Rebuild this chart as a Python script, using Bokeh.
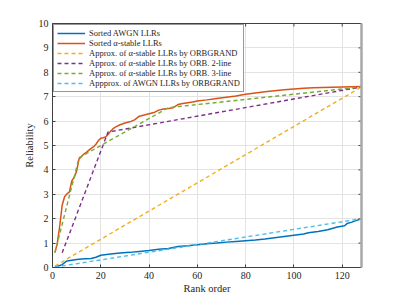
from bokeh.plotting import figure
from bokeh.models import LinearAxis, Range1d, Legend, LegendItem, FixedTicker
from bokeh.embed import file_html
from bokeh.resources import INLINE

# ---- data ----
awgn_x = [1, 2, 3, 4, 5, 6, 8, 10, 12, 14, 16, 18, 20, 24, 28, 32, 36, 40, 44, 48, 50, 52,
          56, 60, 64, 68, 72, 76, 80, 84, 88, 92, 96, 100, 104, 106, 110, 114, 118, 121, 122,
          124, 126, 128]
awgn_y = [0.02, 0.05, 0.08, 0.12, 0.2, 0.27, 0.3, 0.33, 0.35, 0.36, 0.37, 0.42, 0.5, 0.55,
          0.59, 0.62, 0.66, 0.7, 0.75, 0.78, 0.82, 0.86, 0.89, 0.93, 0.97, 1.0, 1.04, 1.07,
          1.1, 1.13, 1.17, 1.22, 1.27, 1.32, 1.37, 1.42, 1.48, 1.55, 1.66, 1.71, 1.8, 1.86,
          1.93, 2.0]

alpha_x = [1, 2, 3, 4, 5, 6, 7, 8, 9, 10, 11, 12, 13, 14, 15, 16, 17, 18, 19, 20, 21, 22,
           23, 24, 25, 26, 28, 30, 32, 34, 36, 38, 40, 42, 44, 46, 48, 50, 52, 54, 56, 58,
           60, 64, 68, 72, 76, 80, 84, 88, 92, 96, 100, 104, 108, 112, 116, 120, 124, 128]
alpha_y = [0.62, 1.0, 1.7, 2.55, 2.9, 3.02, 3.1, 3.55, 3.7, 3.95, 4.45, 4.55, 4.65, 4.72,
           4.8, 4.88, 4.95, 5.05, 5.2, 5.3, 5.32, 5.35, 5.45, 5.58, 5.68, 5.75, 5.85, 5.92,
           5.97, 6.05, 6.2, 6.25, 6.3, 6.35, 6.45, 6.5, 6.52, 6.55, 6.68, 6.72, 6.75, 6.78,
           6.82, 6.87, 6.93, 6.98, 7.03, 7.1, 7.15, 7.2, 7.24, 7.28, 7.32, 7.35, 7.37, 7.38,
           7.39, 7.4, 7.41, 7.42]

orb_alpha_x = [1, 128]
orb_alpha_y = [0.06, 7.4]

orb2_x = [4, 23, 128]
orb2_y = [0.6, 5.55, 7.4]

orb3_x = [1, 11, 48, 128]
orb3_y = [0.6, 4.5, 6.55, 7.4]

orb_awgn_x = [1, 128]
orb_awgn_y = [0.016, 2.0]

x_ticks = [0, 20, 40, 60, 80, 100, 120]
y_ticks = [0, 1, 2, 3, 4, 5, 6, 7, 8, 9, 10]
x_max = 128
y_max = 10

labels = ["Sorted AWGN LLRs",
          "Sorted \u03b1-stable LLRs",
          "Approx. of \u03b1-stable LLRs by ORBGRAND",
          "Approx. of \u03b1-stable LLRs by ORB. 2-line",
          "Approx. of \u03b1-stable LLRs by ORB. 3-line",
          "Appprox. of AWGN LLRs by ORBGRAND"]

FONT = "Liberation Serif"
TXT = "#262626"
AX = "#404040"

p = figure(frame_width=309, frame_height=244,
           x_range=Range1d(0, x_max), y_range=Range1d(0, y_max),
           output_backend="svg", toolbar_location=None,
           min_border_left=52, min_border_right=30, min_border_top=23, min_border_bottom=30,
           background_fill_color="white", border_fill_color="white")
p.outline_line_color = None

for ax, ticks in ((p.xaxis[0], x_ticks), (p.yaxis[0], y_ticks)):
    ax.ticker = FixedTicker(ticks=ticks)
    ax.major_tick_in = 3
    ax.major_tick_out = 0
    ax.minor_tick_in = 0
    ax.minor_tick_out = 0
    ax.axis_line_color = AX
    ax.major_tick_line_color = AX
    ax.major_label_text_font = FONT
    ax.major_label_text_font_size = "10px"
    ax.major_label_text_color = TXT
    ax.major_label_standoff = 4
    ax.axis_label_text_font = FONT
    ax.axis_label_text_font_size = "10.5px"
    ax.axis_label_text_font_style = "normal"
    ax.axis_label_text_color = TXT
    ax.axis_label_standoff = 1

p.xaxis[0].axis_label = "Rank order"
p.yaxis[0].axis_label = "Reliability"

# top / right spines (no tick labels)
top = LinearAxis(ticker=FixedTicker(ticks=[]), major_tick_in=0, major_tick_out=0,
                 minor_tick_in=0, minor_tick_out=0, axis_line_color=AX)
right = LinearAxis(ticker=FixedTicker(ticks=[]), major_tick_in=0, major_tick_out=0,
                   minor_tick_in=0, minor_tick_out=0, axis_line_color="#A8A8A8",
                   axis_line_width=2.5)
p.add_layout(top, "above")
p.add_layout(right, "right")

p.xgrid.ticker = FixedTicker(ticks=x_ticks)
p.ygrid.ticker = FixedTicker(ticks=y_ticks)
p.grid.grid_line_color = "#E3E3E3"
p.grid.grid_line_width = 1

# inward tick marks on the top and right box edges (clipped to the frame)
p.scatter(x_ticks, [y_max] * len(x_ticks), marker="dash", angle=1.5708, size=6,
          line_color=AX, line_width=1)
p.scatter([x_max] * len(y_ticks), y_ticks, marker="dash", size=6,
          line_color=AX, line_width=1)

DASH = "4 3"
r1 = p.line(awgn_x, awgn_y, line_color="#0072BD", line_width=1.5)
r2 = p.line(alpha_x, alpha_y, line_color="#D95319", line_width=1.5)
r3 = p.line(orb_alpha_x, orb_alpha_y, line_color="#EDB120", line_width=1.4, line_dash=DASH)
r4 = p.line(orb2_x, orb2_y, line_color="#7E2F8E", line_width=1.4, line_dash=DASH)
r5 = p.line(orb3_x, orb3_y, line_color="#77AC30", line_width=1.4, line_dash=DASH)
r6 = p.line(orb_awgn_x, orb_awgn_y, line_color="#4DBEEE", line_width=1.4, line_dash=DASH)

legend = Legend(items=[LegendItem(label=l, renderers=[r]) for l, r in
                       zip(labels, [r1, r2, r3, r4, r5, r6])],
                location="top_left", margin=1, padding=3, spacing=0,
                label_height=10, glyph_height=10, glyph_width=28, label_standoff=4,
                label_text_font=FONT, label_text_font_size="8.5px", label_text_color=TXT,
                border_line_color="#333333", border_line_width=1,
                background_fill_color="white", background_fill_alpha=1.0)
p.add_layout(legend)

open("out.html", "w").write(file_html(p, INLINE))
